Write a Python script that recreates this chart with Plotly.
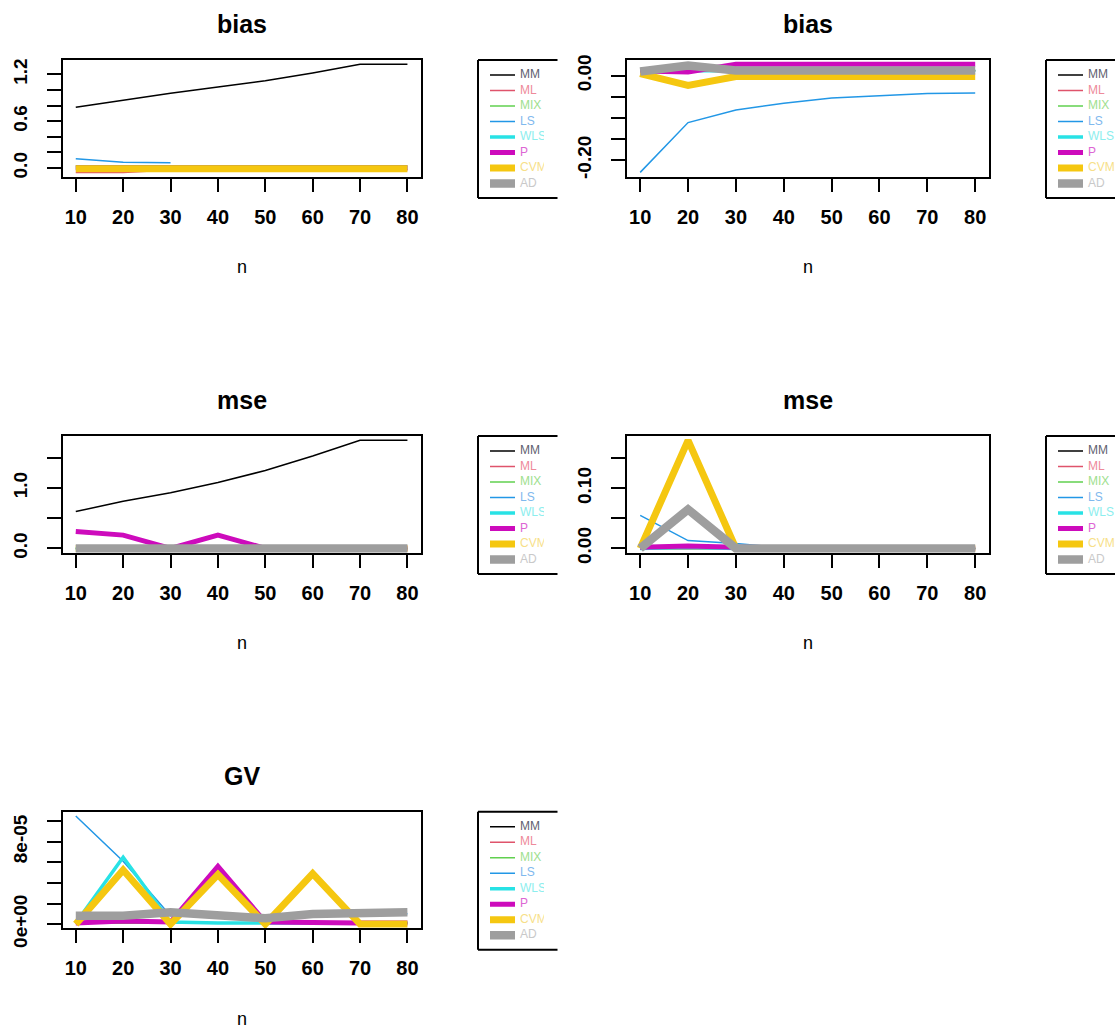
import plotly.graph_objects as go

# ---------------- data ----------------
n = [10, 20, 30, 40, 50, 60, 70, 80]
methods = ["MM", "ML", "MIX", "LS", "WLS", "P", "CVM", "AD"]
line_colors = ["#000000", "#DF536B", "#61D04F", "#2297E6", "#28E2E5", "#CD0BBC", "#F5C710", "#9E9E9E"]
legend_text_colors = ["#5f6170", "#ee8a9a", "#9ee08e", "#7fb9ee", "#8ceeee", "#dd66d4", "#f7df8a", "#c9c9c9"]
line_widths = [1.5, 1.5, 1.5, 1.5, 3.5, 5, 7, 8.5]

bias_left = {
    "MM":  [0.78, 0.87, 0.96, 1.04, 1.12, 1.22, 1.33, 1.33],
    "ML":  [-0.055, -0.055, -0.025, -0.02, -0.02, -0.02, -0.02, -0.02],
    "MIX": [0.03, 0.03, 0.03, 0.03, 0.03, 0.03, 0.03, 0.03],
    "LS":  [0.12, 0.075, 0.07, None, None, None, None, None],
    "WLS": [0.0, 0.0, 0.0, 0.0, 0.0, 0.0, 0.0, 0.0],
    "P":   [0.0, 0.0, 0.0, 0.0, 0.0, 0.0, 0.0, 0.0],
    "CVM": [-0.01, -0.01, -0.01, -0.01, -0.01, -0.01, -0.01, -0.01],
    "AD":  [None, None, None, None, None, None, None, None],
}
bias_right = {
    "MM":  [0.012, 0.012, 0.012, 0.012, 0.012, 0.012, 0.012, 0.012],
    "ML":  [0.012, 0.012, 0.012, 0.012, 0.012, 0.012, 0.012, 0.012],
    "MIX": [0.012, 0.012, 0.012, 0.012, 0.012, 0.012, 0.012, 0.012],
    "LS":  [-0.229, -0.111, -0.081, -0.065, -0.053, -0.047, -0.042, -0.041],
    "WLS": [0.012, 0.012, 0.012, 0.012, 0.012, 0.012, 0.012, 0.012],
    "P":   [0.011, 0.009, 0.027, 0.027, 0.027, 0.027, 0.027, 0.027],
    "CVM": [0.005, -0.023, -0.002, -0.002, -0.002, -0.002, -0.002, -0.002],
    "AD":  [0.010, 0.024, 0.0125, 0.0125, 0.0125, 0.0125, 0.0125, 0.0125],
}
mse_left = {
    "MM":  [0.61, 0.78, 0.92, 1.09, 1.29, 1.53, 1.79, 1.79],
    "ML":  [0.0, 0.0, 0.0, 0.0, 0.0, 0.0, 0.0, 0.0],
    "MIX": [0.0, 0.0, 0.0, 0.0, 0.0, 0.0, 0.0, 0.0],
    "LS":  [0.0, 0.0, 0.0, 0.0, 0.0, 0.0, 0.0, 0.0],
    "WLS": [0.0, 0.0, 0.0, 0.0, 0.0, 0.0, 0.0, 0.0],
    "P":   [0.28, 0.22, 0.0, 0.22, 0.0, 0.0, 0.0, 0.0],
    "CVM": [0.0, 0.0, 0.0, 0.0, 0.0, 0.0, 0.0, 0.0],
    "AD":  [0.0, 0.0, 0.0, 0.0, 0.0, 0.0, 0.0, 0.0],
}
mse_right = {
    "MM":  [0.0, 0.0, 0.0, 0.0, 0.0, 0.0, 0.0, 0.0],
    "ML":  [0.0, 0.0, 0.0, 0.0, 0.0, 0.0, 0.0, 0.0],
    "MIX": [0.0, 0.0, 0.0, 0.0, 0.0, 0.0, 0.0, 0.0],
    "LS":  [0.055, 0.013, 0.008, 0.001, 0.0, 0.0, 0.0, 0.0],
    "WLS": [0.0, 0.002, 0.0, 0.0, 0.0, 0.0, 0.0, 0.0],
    "P":   [0.002, 0.004, 0.002, 0.0, 0.0, 0.0, 0.0, 0.0],
    "CVM": [0.0, 0.180, 0.0, 0.0, 0.0, 0.0, 0.0, 0.0],
    "AD":  [0.0, 0.065, 0.0, 0.0, 0.0, 0.0, 0.0, 0.0],
}
gv_left = {
    "MM":  [1e-6, 1e-6, 1e-6, 1e-6, 1e-6, 1e-6, 1e-6, 1e-6],
    "ML":  [1e-6, 1e-6, 1e-6, 1e-6, 1e-6, 1e-6, 1e-6, 1e-6],
    "MIX": [1e-6, 1e-6, 1e-6, 1e-6, 1e-6, 1e-6, 1e-6, 1e-6],
    "LS":  [1.05e-4, 6.1e-5, 8e-6, 8e-6, 5e-6, 9e-6, 1e-5, 1e-5],
    "WLS": [1e-6, 6.5e-5, 2e-6, 1e-6, 1e-6, 1e-6, 1e-6, 1e-6],
    "P":   [1e-6, 3e-6, 2e-6, 5.6e-5, 2e-6, 1e-6, 1e-6, 1e-6],
    "CVM": [0.0, 5.25e-5, 0.0, 4.8e-5, 0.0, 4.9e-5, 0.0, 0.0],
    "AD":  [8.2e-6, 8.2e-6, 1.15e-5, 9.2e-6, 5.6e-6, 9.8e-6, 1.15e-5, 1.15e-5],
}

bias_left_ticks = [0.0, 0.2, 0.4, 0.6, 0.8, 1.0, 1.2]
bias_left_labels = ["0.0", "", "", "0.6", "", "", "1.2"]
bias_right_ticks = [-0.20, -0.15, -0.10, -0.05, 0.00]
bias_right_labels = ["-0.20", "", "", "", "0.00"]
mse_left_ticks = [0.0, 0.5, 1.0, 1.5]
mse_left_labels = ["0.0", "", "1.0", ""]
mse_right_ticks = [0.00, 0.05, 0.10, 0.15]
mse_right_labels = ["0.00", "", "0.10", ""]
gv_left_ticks = [0.0, 2e-5, 4e-5, 6e-5, 8e-5, 1e-4]
gv_left_labels = ["0e+00", "", "", "", "8e-05", ""]

# ---------------- layout helpers ----------------
W, H = 1115, 1028
FONT = "Liberation Sans, Arial, sans-serif"


def fx(px):
    return px / W


def fy(py):
    return 1 - py / H


cols = {0: dict(left=62.5, right=420.7, leg_left=478, leg_clip=544, leg_end=557.5),
        1: dict(left=626.8, right=988.6, leg_left=1046, leg_clip=1115, leg_end=1115)}
row_tops = [60, 436, 811.7]
BOX_H = 116.7
LEG_H = 138

panels = [
    dict(title="bias", data=bias_left, ticks=bias_left_ticks, labels=bias_left_labels, row=0, col=0),
    dict(title="bias", data=bias_right, ticks=bias_right_ticks, labels=bias_right_labels, row=0, col=1),
    dict(title="mse", data=mse_left, ticks=mse_left_ticks, labels=mse_left_labels, row=1, col=0),
    dict(title="mse", data=mse_right, ticks=mse_right_ticks, labels=mse_right_labels, row=1, col=1),
    dict(title="GV", data=gv_left, ticks=gv_left_ticks, labels=gv_left_labels, row=2, col=0),
]

fig = go.Figure()
layout = dict(width=W, height=H, margin=dict(l=0, r=0, t=0, b=0, pad=0, autoexpand=False),
              paper_bgcolor="white", plot_bgcolor="white", showlegend=False,
              font=dict(family=FONT, color="black"))
annotations = []
shapes = []

xlo, xhi = min(n), max(n)
xpad = 0.04 * (xhi - xlo)

for i, p in enumerate(panels):
    k = i + 1
    c = cols[p["col"]]
    top = row_tops[p["row"]]
    bottom = top + BOX_H

    vals = [v for m in methods for v in p["data"][m] if v is not None]
    ylo, yhi = min(vals), max(vals)
    ypad = 0.04 * (yhi - ylo)

    for mi, m in enumerate(methods):
        fig.add_trace(go.Scatter(
            x=n, y=p["data"][m], mode="lines",
            line=dict(color=line_colors[mi], width=line_widths[mi]),
            xaxis=f"x{k}", yaxis=f"y{k}", connectgaps=False, hoverinfo="skip"))

    layout[f"xaxis{k}"] = dict(
        domain=[fx(c["left"]), fx(c["right"])], anchor=f"y{k}",
        range=[xlo - xpad, xhi + xpad], tickvals=n,
        ticktext=[f"<b>{v}</b>" for v in n],
        ticks="outside", ticklen=13, tickwidth=2, tickcolor="black",
        showline=True, mirror=True, linewidth=2, linecolor="black",
        showgrid=False, zeroline=False, ticklabelstandoff=8, automargin=False,
        tickfont=dict(family=FONT, size=20, color="black"))
    layout[f"yaxis{k}"] = dict(
        domain=[fy(bottom), fy(top)], anchor=f"x{k}",
        range=[ylo - ypad, yhi + ypad], tickvals=p["ticks"],
        ticktext=[f"<b>{t}</b>" if t else "" for t in p["labels"]],
        tickangle=-90,
        ticks="outside", ticklen=14, tickwidth=2, tickcolor="black",
        showline=True, mirror=True, linewidth=2, linecolor="black",
        showgrid=False, zeroline=False, ticklabelstandoff=12, automargin=False,
        tickfont=dict(family=FONT, size=19, color="black"))

    xc = (c["left"] + c["right"]) / 2
    annotations.append(dict(text=f"<b>{p['title']}</b>", x=fx(xc), y=fy(top - 36),
                            xref="paper", yref="paper", showarrow=False,
                            xanchor="center", yanchor="middle",
                            font=dict(family=FONT, size=25, color="black")))
    annotations.append(dict(text="n", x=fx(xc), y=fy(top + 207),
                            xref="paper", yref="paper", showarrow=False,
                            xanchor="center", yanchor="middle", height=18,
                            font=dict(family=FONT, size=18, color="black")))

    # legend (clipped like the original device region)
    j = i + 6
    lw = c["leg_clip"] - c["leg_left"]
    row_y = [15 + 15.5 * r for r in range(len(methods))]
    for mi, m in enumerate(methods):
        fig.add_trace(go.Scatter(
            x=[12, 37], y=[row_y[mi], row_y[mi]], mode="lines",
            line=dict(color=line_colors[mi], width=line_widths[mi]),
            xaxis=f"x{j}", yaxis=f"y{j}", hoverinfo="skip"))
    fig.add_trace(go.Scatter(
        x=[42] * len(methods), y=row_y, mode="text", text=methods,
        textposition="middle right",
        textfont=dict(family=FONT, size=12, color=legend_text_colors),
        cliponaxis=True, xaxis=f"x{j}", yaxis=f"y{j}", hoverinfo="skip"))
    layout[f"xaxis{j}"] = dict(domain=[fx(c["leg_left"]), fx(c["leg_clip"])],
                               anchor=f"y{j}", range=[0, lw], visible=False, fixedrange=True)
    layout[f"yaxis{j}"] = dict(domain=[fy(top + LEG_H), fy(top)], anchor=f"x{j}",
                               range=[LEG_H, 0], visible=False, fixedrange=True)
    line_style = dict(color="black", width=2)
    shapes.append(dict(type="line", xref="paper", yref="paper", x0=fx(c["leg_left"]), x1=fx(c["leg_left"]),
                       y0=fy(top), y1=fy(top + LEG_H), line=line_style))
    shapes.append(dict(type="line", xref="paper", yref="paper", x0=fx(c["leg_left"]), x1=fx(c["leg_end"]),
                       y0=fy(top), y1=fy(top), line=line_style))
    shapes.append(dict(type="line", xref="paper", yref="paper", x0=fx(c["leg_left"]), x1=fx(c["leg_end"]),
                       y0=fy(top + LEG_H), y1=fy(top + LEG_H), line=line_style))

layout["annotations"] = annotations
layout["shapes"] = shapes
fig.update_layout(**layout)

page_fix = ("document.documentElement.style.margin='0';document.body.style.margin='0';"
            "document.body.style.padding='0';document.body.style.overflow='hidden';"
            "document.documentElement.style.overflow='hidden';")
fig.write_html("out.html", post_script=page_fix, config={"displayModeBar": False})
